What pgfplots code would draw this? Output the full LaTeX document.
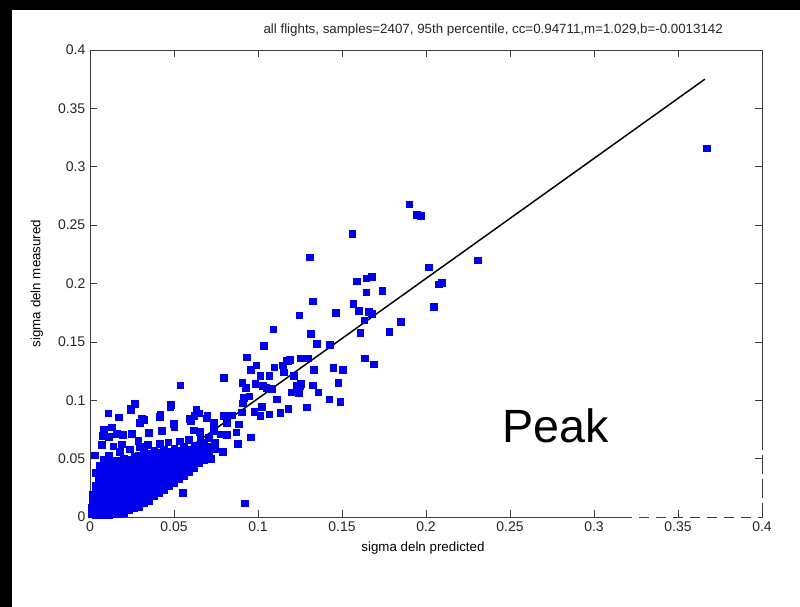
\documentclass[border=0pt]{standalone}
\usepackage{fontspec}
\setmainfont{Liberation Sans}
\usepackage{pgfplots}
\pgfplotsset{compat=1.18}
\definecolor{matblue}{RGB}{0,0,235}
\definecolor{framegray}{RGB}{60,60,60}

\begin{document}
\begin{tikzpicture}
\useasboundingbox (-67.5pt,-67.5pt) rectangle (532.5pt,387.75pt);
\fill[black] (-67.5pt,-67.5pt) rectangle (532.5pt,387.75pt);
\fill[white] (-58.5pt,-67.5pt) rectangle (532.5pt,380.25pt);
\begin{axis}[
  at={(0,0)}, anchor=south west,
  scale only axis, width=504pt, height=350.25pt,
  xmin=0, xmax=0.4, ymin=0, ymax=0.4,
  clip=false,
  xtick={0,0.05,0.1,0.15,0.2,0.25,0.3,0.35,0.4},
  ytick={0,0.05,0.1,0.15,0.2,0.25,0.3,0.35,0.4},
  xticklabels={0,0.05,0.1,0.15,0.2,0.25,0.3,0.35,0.4},
  yticklabels={0,0.05,0.1,0.15,0.2,0.25,0.3,0.35,0.4},
  tick align=inside,
  major tick length=5pt,
  tick style={framegray, line width=0.5pt},
  axis line style={framegray, line width=0.6pt},
  tick label style={font=\fontsize{10.5}{12}\selectfont, text=black!85},
  xlabel={sigma deln predicted},
  ylabel={sigma deln measured},
  label style={font=\fontsize{10.5}{12}\selectfont, text=black!85},
  every axis x label/.style={at={(axis description cs:0.4955,-0.066)}, anchor=center},
  every axis y label/.style={at={(axis description cs:-0.079,0.5)}, rotate=90, anchor=center},
  title={all flights, samples=2407, 95th percentile, cc=0.94711,m=1.029,b=-0.0013142},
  title style={at={(axis description cs:0.6,1)}, anchor=south, yshift=1pt,
    font=\fontsize{10}{12}\selectfont, text=black!85},
]
% dense cluster near the origin
\addplot[only marks, mark=square*, mark size=2.5pt,
  mark options={draw=matblue, fill=matblue, line width=0.2pt}]
coordinates {
(0.001,0.003)(0.001,0.008)(0.0015,0.013)(0.0012,0.019)
(0.003,0.002)(0.003,0.007)(0.003,0.012)(0.0035,0.017)(0.003,0.022)(0.0032,0.027)
(0.005,0.002)(0.005,0.007)(0.005,0.012)(0.0055,0.017)(0.005,0.022)(0.005,0.027)(0.0052,0.032)(0.005,0.037)(0.0055,0.044)
(0.008,0.002)(0.008,0.007)(0.008,0.012)(0.0085,0.017)(0.008,0.022)(0.008,0.027)(0.0078,0.032)(0.008,0.037)(0.0082,0.042)(0.008,0.049)
(0.011,0.002)(0.011,0.007)(0.011,0.012)(0.0115,0.017)(0.011,0.022)(0.011,0.027)(0.0108,0.032)(0.011,0.037)(0.011,0.042)(0.0112,0.047)(0.011,0.053)
(0.014,0.003)(0.014,0.008)(0.0145,0.013)(0.014,0.018)(0.014,0.023)(0.0138,0.028)(0.014,0.033)(0.014,0.038)(0.0142,0.043)(0.014,0.048)
(0.017,0.003)(0.017,0.008)(0.017,0.013)(0.0168,0.018)(0.017,0.023)(0.017,0.028)(0.0172,0.033)(0.017,0.038)(0.017,0.043)(0.0168,0.048)(0.0175,0.056)
(0.020,0.004)(0.020,0.008)(0.0205,0.013)(0.020,0.018)(0.020,0.023)(0.0198,0.028)(0.020,0.033)(0.020,0.038)(0.0202,0.043)(0.020,0.050)
(0.023,0.006)(0.023,0.009)(0.023,0.014)(0.0232,0.019)(0.023,0.024)(0.023,0.029)(0.0228,0.034)(0.023,0.039)(0.023,0.044)(0.0232,0.049)(0.0235,0.058)
(0.026,0.008)(0.026,0.011)(0.026,0.016)(0.0262,0.021)(0.026,0.026)(0.026,0.031)(0.0258,0.036)(0.026,0.041)(0.026,0.046)(0.0262,0.052)
(0.029,0.009)(0.029,0.013)(0.029,0.018)(0.0288,0.023)(0.029,0.028)(0.029,0.033)(0.0292,0.038)(0.029,0.043)(0.029,0.048)(0.0288,0.053)(0.0295,0.060)
(0.032,0.012)(0.032,0.016)(0.0322,0.021)(0.032,0.026)(0.032,0.031)(0.0318,0.036)(0.032,0.041)(0.032,0.046)(0.0322,0.051)(0.032,0.056)
(0.035,0.014)(0.035,0.019)(0.0352,0.024)(0.035,0.029)(0.035,0.034)(0.0348,0.039)(0.035,0.044)(0.035,0.049)(0.0352,0.054)(0.0345,0.062)
(0.038,0.018)(0.038,0.022)(0.0382,0.027)(0.038,0.032)(0.038,0.037)(0.0378,0.042)(0.038,0.047)(0.038,0.052)(0.0382,0.057)
(0.041,0.021)(0.041,0.025)(0.0412,0.030)(0.041,0.035)(0.041,0.040)(0.0408,0.045)(0.041,0.050)(0.041,0.055)(0.0415,0.063)
(0.044,0.023)(0.044,0.028)(0.0442,0.033)(0.044,0.038)(0.044,0.043)(0.0438,0.048)(0.044,0.053)(0.044,0.058)
(0.047,0.027)(0.047,0.031)(0.0472,0.036)(0.047,0.041)(0.047,0.046)(0.0468,0.051)(0.047,0.056)(0.0465,0.064)
(0.050,0.029)(0.050,0.034)(0.0502,0.039)(0.050,0.044)(0.050,0.049)(0.0498,0.054)(0.050,0.059)
(0.053,0.033)(0.053,0.037)(0.0532,0.042)(0.053,0.047)(0.053,0.052)(0.0528,0.057)(0.0535,0.065)
(0.056,0.035)(0.056,0.040)(0.0562,0.045)(0.056,0.050)(0.056,0.055)(0.0558,0.060)
(0.059,0.039)(0.059,0.043)(0.0592,0.048)(0.059,0.053)(0.059,0.058)(0.0588,0.066)
(0.062,0.042)(0.062,0.046)(0.0622,0.051)(0.062,0.056)(0.062,0.061)
(0.065,0.046)(0.065,0.050)(0.0652,0.055)(0.065,0.060)(0.0655,0.067)
(0.068,0.049)(0.068,0.054)(0.0682,0.059)(0.068,0.064)
(0.071,0.054)(0.0712,0.060)(0.0705,0.068)
(0.074,0.058)(0.0742,0.064)
};
% scattered points
\addplot[only marks, mark=square*, mark size=2.5pt,
  mark options={draw=matblue, fill=matblue, line width=0.2pt}]
coordinates {
(0.0536,0.113)(0.0266,0.097)(0.0242,0.092)(0.0476,0.094)(0.0107,0.089)
(0.0171,0.0855)(0.0415,0.0857)(0.0296,0.081)(0.0321,0.0835)(0.0500,0.077)
(0.0425,0.074)(0.0619,0.087)(0.0599,0.0826)(0.0692,0.0847)(0.0083,0.075)
(0.0127,0.077)(0.0077,0.0696)(0.0111,0.0686)(0.0157,0.0713)(0.0196,0.0703)
(0.0246,0.0713)(0.0349,0.072)(0.0071,0.062)(0.0137,0.0608)(0.0187,0.0624)
(0.0286,0.0653)(0.0028,0.053)(0.0032,0.038)(0.0238,0.093)(0.0308,0.084)
(0.0480,0.0964)(0.0417,0.0876)(0.0496,0.080)(0.0631,0.092)(0.0645,0.089)
(0.0275,0.009)(0.0550,0.021)(0.0920,0.012)(0.0720,0.050)(0.0790,0.056)(0.0880,0.063)
(0.1091,0.161)(0.1032,0.147)(0.0933,0.137)(0.0988,0.130)(0.1167,0.134)
(0.1180,0.134)(0.1299,0.136)(0.1097,0.1285)(0.1147,0.130)(0.1151,0.124)
(0.0956,0.1265)(0.1067,0.121)(0.1012,0.121)(0.0794,0.1195)(0.0905,0.115)
(0.0982,0.114)(0.1028,0.1124)(0.1048,0.1108)(0.1230,0.1125)(0.0925,0.111)
(0.1081,0.110)(0.0913,0.102)(0.0948,0.1036)(0.1111,0.101)(0.0909,0.0974)
(0.1022,0.0947)(0.1180,0.093)(0.1290,0.094)(0.0976,0.090)(0.1067,0.088)
(0.1012,0.087)(0.1131,0.0895)(0.0903,0.0897)(0.0698,0.087)(0.0794,0.0867)
(0.0843,0.0872)(0.0595,0.084)(0.0734,0.081)(0.0813,0.081)(0.0885,0.0796)
(0.0615,0.0744)(0.0651,0.073)(0.0734,0.0742)(0.0778,0.0711)(0.0813,0.0703)
(0.0869,0.0728)(0.0956,0.0685)
(0.1560,0.243)(0.1306,0.2225)(0.2016,0.214)(0.1587,0.202)(0.1643,0.2045)
(0.1677,0.206)(0.1643,0.1925)(0.1738,0.194)(0.1325,0.185)(0.1567,0.183)
(0.1462,0.175)(0.1599,0.177)(0.1657,0.176)(0.1675,0.174)(0.1244,0.173)
(0.1631,0.1685)(0.1850,0.1675)(0.1314,0.157)(0.1607,0.158)(0.1780,0.159)
(0.1349,0.1485)(0.1425,0.1476)(0.1254,0.136)(0.1190,0.135)(0.1635,0.136)
(0.1690,0.131)(0.1214,0.121)(0.1333,0.1265)(0.1448,0.128)(0.1504,0.126)
(0.1476,0.115)(0.1254,0.114)(0.1250,0.112)(0.1325,0.113)(0.1200,0.107)
(0.1240,0.106)(0.1357,0.107)(0.1423,0.101)(0.1488,0.099)
(0.1900,0.268)(0.1945,0.259)(0.1969,0.258)(0.2308,0.220)(0.2044,0.180)
(0.2075,0.1995)(0.2093,0.201)(0.3670,0.316)
};
% fitted line
\addplot[black, line width=1.1pt] coordinates {(0.0013,0) (0.366,0.375)};
% white gaps over the frame, lower right
\draw[white, line width=2pt, dash pattern=on 5.25pt off 7.5pt]
  (axis cs:0.3226,0) -- (axis cs:0.4,0);
\draw[white, line width=2pt, dash pattern=on 4pt off 14pt]
  (axis cs:0.4,0.012) -- (axis cs:0.4,0.065);
\node[anchor=base west, font=\fontsize{35}{40}\selectfont]
  at (axis cs:0.2429,0.0642) {Peak};
\end{axis}
\end{tikzpicture}
\end{document}
